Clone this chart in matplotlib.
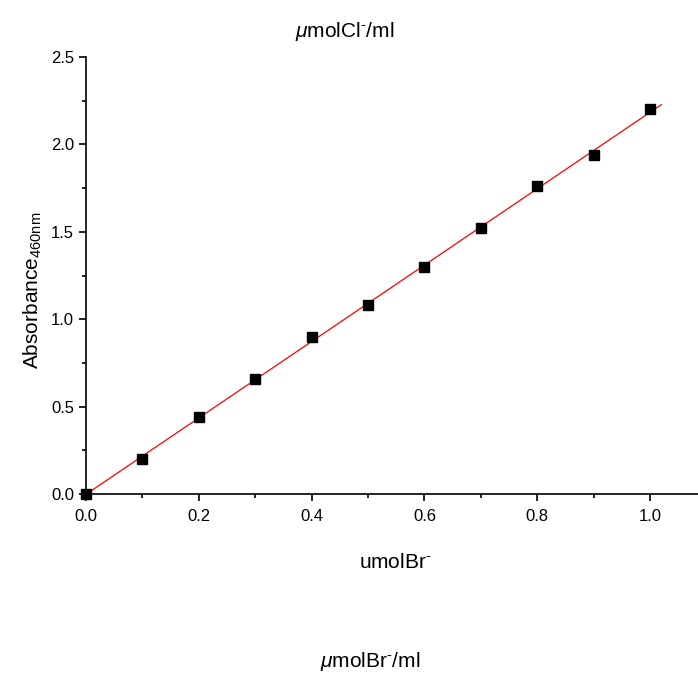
import numpy as np
import matplotlib.pyplot as plt
from matplotlib.ticker import MultipleLocator

plt.rcParams['font.family'] = ['Liberation Sans', 'DejaVu Sans']
plt.rcParams['mathtext.fontset'] = 'custom'
plt.rcParams['mathtext.rm'] = 'Liberation Sans'
plt.rcParams['mathtext.it'] = 'Liberation Sans:italic'

# concentration (umol Br-) and absorbance at 460 nm
conc = [0.0, 0.1, 0.2, 0.3, 0.4, 0.5, 0.6, 0.7, 0.8, 0.9, 1.0]
absorbance = [0.0, 0.20, 0.44, 0.66, 0.90, 1.08, 1.30, 1.52, 1.76, 1.94, 2.20]

W, H = 698, 677
fig = plt.figure(figsize=(W / 100, H / 100), dpi=100)
ax = fig.add_axes([0.1232, 0.2703, 0.8768, 0.6455])

# linear fit
slope, intercept = np.polyfit(conc, absorbance, 1)
xfit = np.array([0.0, 1.02])
ax.plot(xfit, slope * xfit + intercept, color='red', lw=0.9, zorder=2)
ax.plot(conc, absorbance, 's', color='black', markersize=7, clip_on=False, zorder=3)

ax.set_xlim(0, 1.085)
ax.set_ylim(0, 2.5)
ax.xaxis.set_major_locator(MultipleLocator(0.2))
ax.xaxis.set_minor_locator(MultipleLocator(0.1))
ax.yaxis.set_major_locator(MultipleLocator(0.5))
ax.yaxis.set_minor_locator(MultipleLocator(0.25))
ax.xaxis.set_major_formatter(plt.FormatStrFormatter('%.1f'))
ax.yaxis.set_major_formatter(plt.FormatStrFormatter('%.1f'))
ax.tick_params(which='major', direction='out', length=5, width=1.2, labelsize=12)
ax.tick_params(axis='x', which='major', pad=6)
ax.tick_params(which='minor', direction='out', length=3, width=1.2)

ax.spines['top'].set_visible(False)
ax.spines['right'].set_visible(False)
ax.spines['left'].set_linewidth(1.2)
ax.spines['bottom'].set_linewidth(1.2)

sup = r'$^{\text{-}}$'
fs = 15
fig.text(395 / W, 1 - 568 / H, 'umolBr' + sup, ha='center', va='baseline', fontsize=fs)
fig.text(33 / W, 1 - 290 / H, r'Absorbance$_{460\mathrm{nm}}$', ha='center', va='center',
         rotation=90, fontsize=fs)

fig.text(345 / W, 1 - 37 / H, r'$\mu$molCl' + sup + '/ml', ha='center', va='baseline', fontsize=fs)
fig.text(370 / W, 1 - 667 / H, r'$\mu$molBr' + sup + '/ml', ha='center', va='baseline', fontsize=fs)

fig.savefig('out.png', dpi=100)
